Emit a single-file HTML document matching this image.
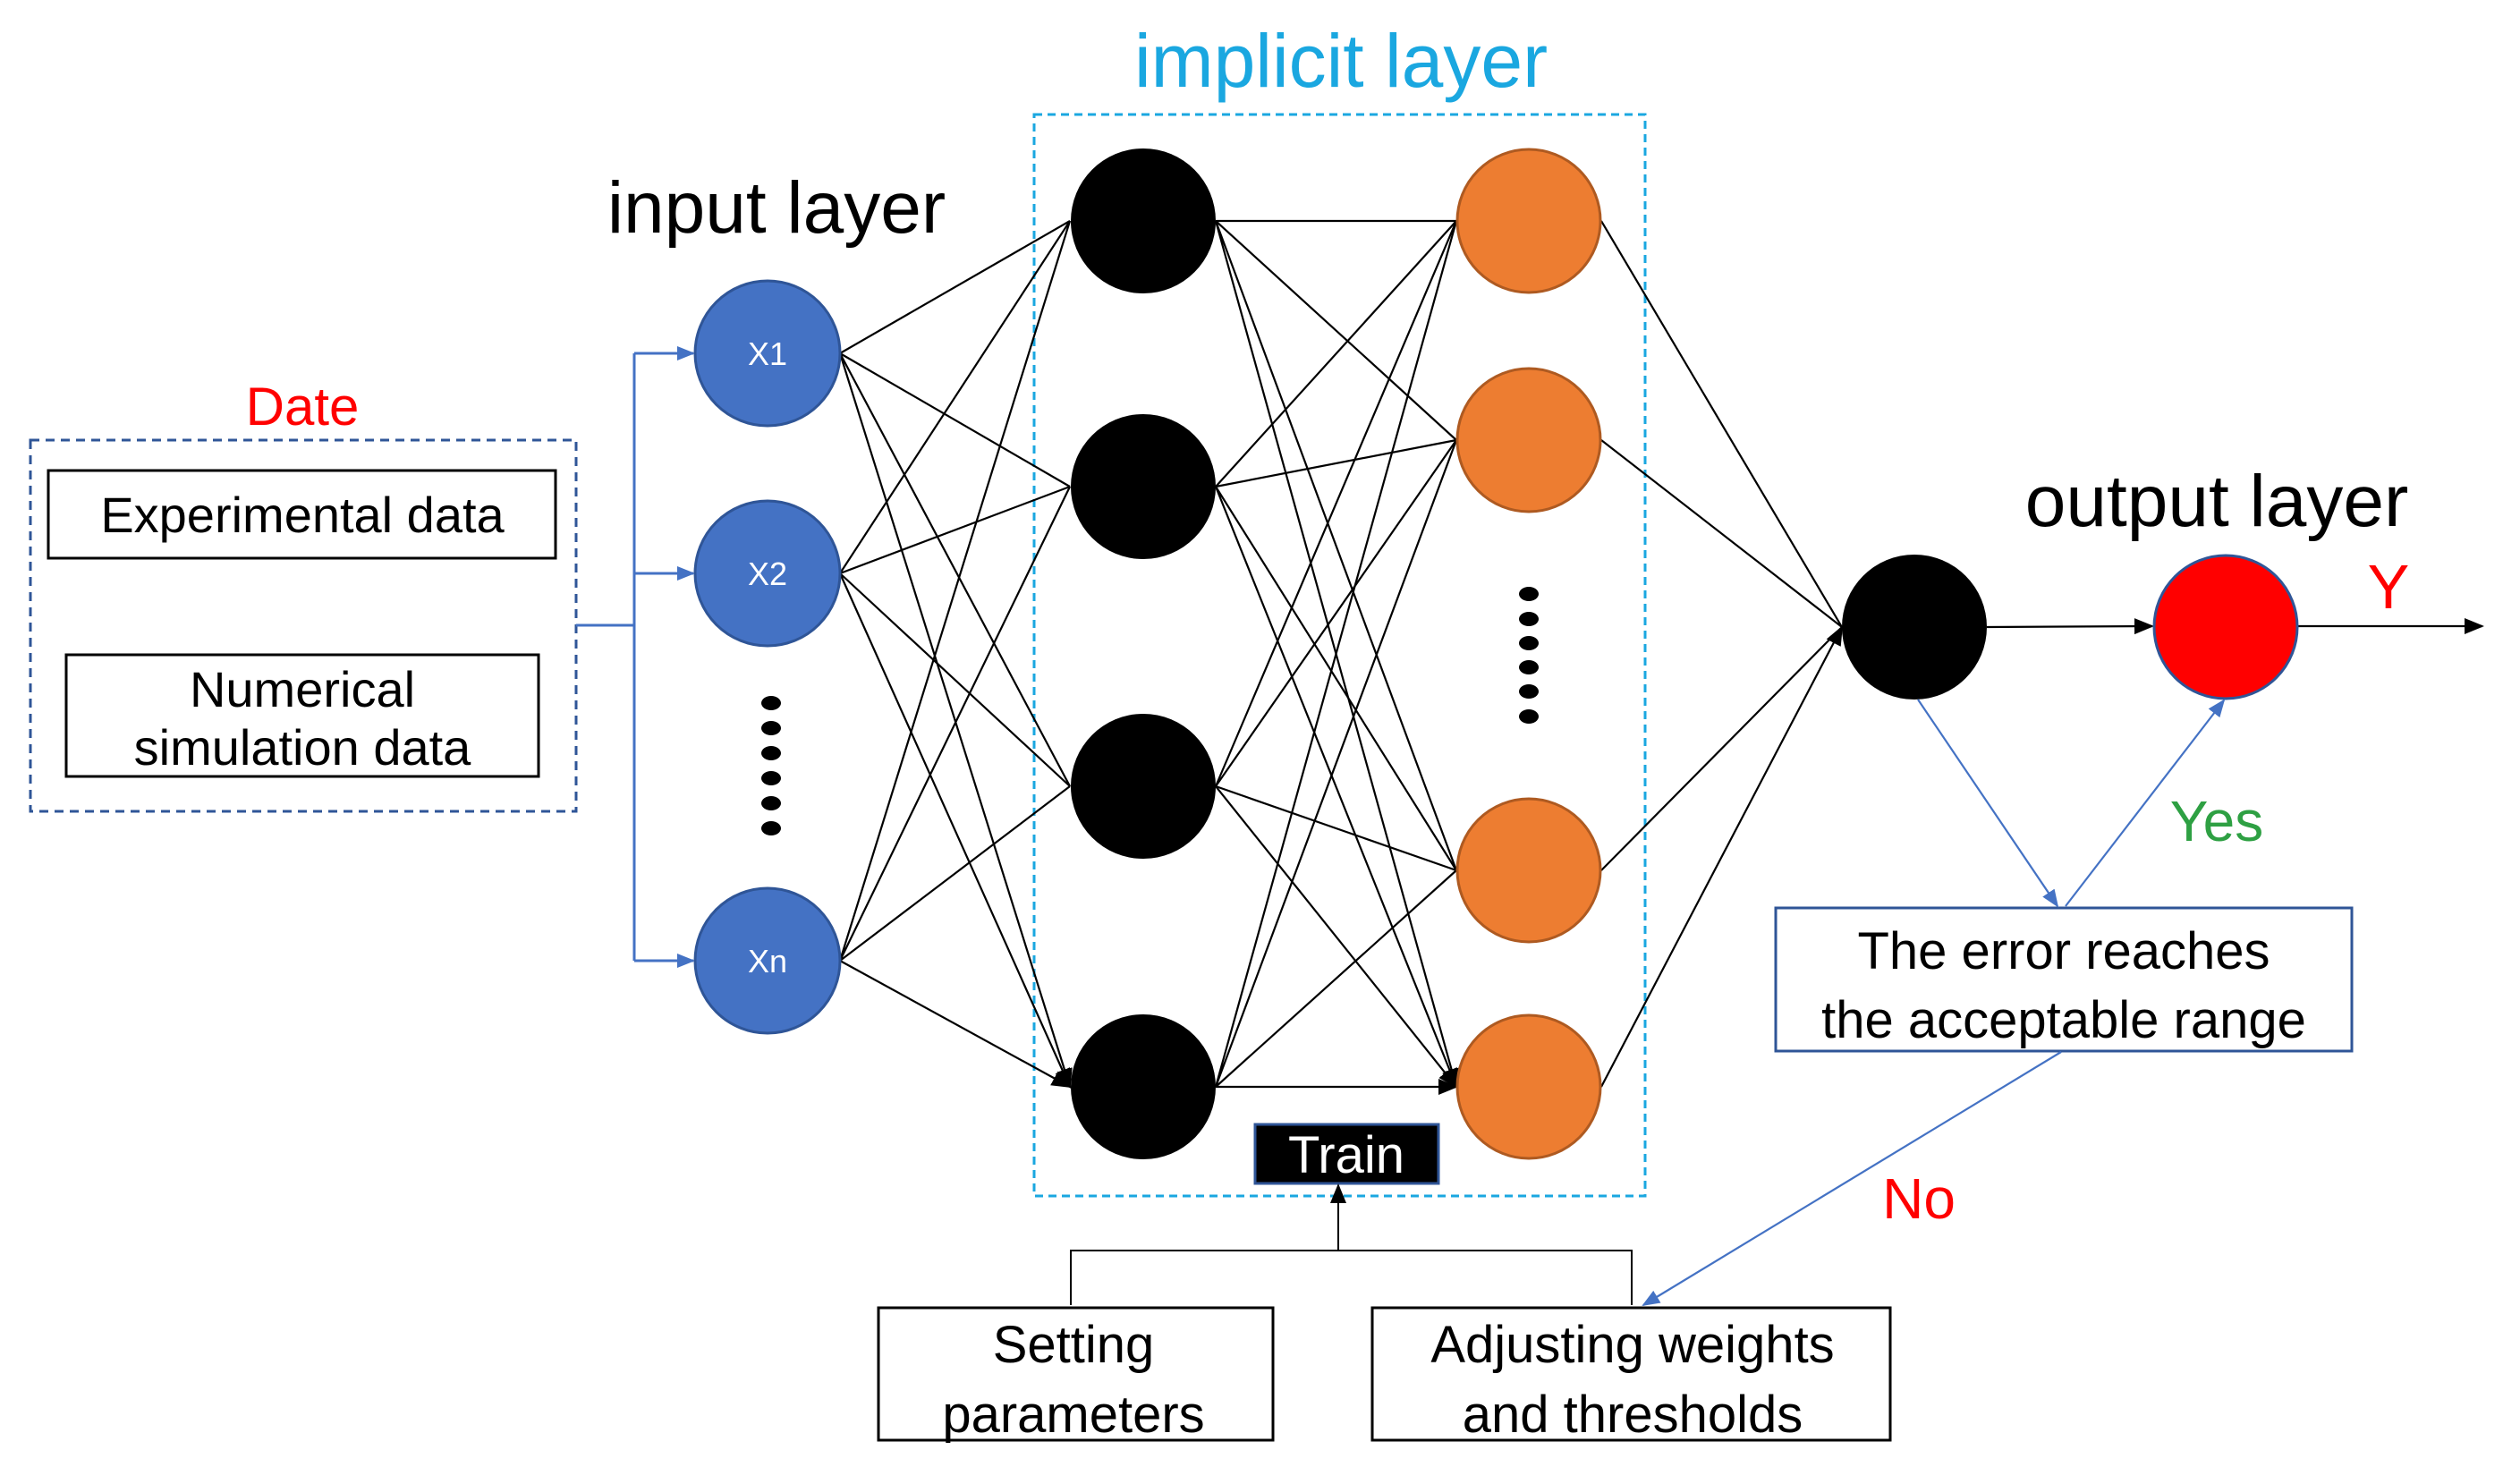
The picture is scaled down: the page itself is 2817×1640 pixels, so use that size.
<!DOCTYPE html>
<html><head><meta charset="utf-8"><style>
html,body{margin:0;padding:0;background:#fff}
svg{display:block}
text{font-family:"Liberation Sans","Noto Sans CJK SC",sans-serif}
</style></head><body>
<svg width="2817" height="1640" viewBox="0 0 2817 1640" xmlns="http://www.w3.org/2000/svg">
<defs>
<marker id="ak" markerWidth="10" markerHeight="10" refX="9" refY="5" orient="auto" markerUnits="userSpaceOnUse" viewBox="0 0 10 10"><path d="M0,0 L10,5 L0,10 z" fill="#000" transform="scale(1)"/></marker>
<marker id="akb" markerWidth="22" markerHeight="22" refX="20" refY="11" orient="auto" markerUnits="userSpaceOnUse"><path d="M0,2 L22,11 L0,20 z" fill="#000"/></marker>
<marker id="ab" markerWidth="20" markerHeight="18" refX="18" refY="9" orient="auto" markerUnits="userSpaceOnUse"><path d="M0,1 L20,9 L0,17 z" fill="#4472C4"/></marker>
</defs>

<!-- texts -->
<text x="1499" y="97" font-size="84" fill="#1AA7E0" text-anchor="middle">implicit layer</text>
<text x="868" y="260" font-size="82" fill="#000" text-anchor="middle">input layer</text>
<text x="2478" y="588" font-size="82" fill="#000" text-anchor="middle">output layer</text>
<text x="338" y="475" font-size="60" fill="#FF0000" text-anchor="middle">Date</text>
<text x="2670" y="680" font-size="70" fill="#FF0000" text-anchor="middle">Y</text>
<text x="2478" y="940" font-size="64" fill="#2EA043" text-anchor="middle">Yes</text>
<text x="2145" y="1362" font-size="64" fill="#FF0000" text-anchor="middle">No</text>

<!-- Date box -->
<rect x="34" y="492" width="610" height="415" fill="none" stroke="#2F5597" stroke-width="3" stroke-dasharray="10,7"/>
<rect x="54" y="526" width="567" height="98" fill="none" stroke="#000" stroke-width="3"/>
<text x="338" y="595" font-size="56" text-anchor="middle">Experimental  data</text>
<rect x="74" y="732" width="528" height="136" fill="none" stroke="#000" stroke-width="3"/>
<text x="338" y="790" font-size="56" text-anchor="middle">Numerical</text>
<text x="338" y="855" font-size="56" text-anchor="middle">simulation  data</text>

<!-- blue bracket -->
<g stroke="#4472C4" stroke-width="3" fill="none">
<path d="M644,699 H709"/>
<path d="M709,395 V1074"/>
<path d="M709,395 H775" marker-end="url(#ab)"/>
<path d="M709,641 H775" marker-end="url(#ab)"/>
<path d="M709,1074 H775" marker-end="url(#ab)"/>
</g>

<!-- implicit box -->
<rect x="1156" y="128" width="683" height="1209" fill="none" stroke="#1AA7E0" stroke-width="3" stroke-dasharray="9,6"/>

<!-- connections -->
<g stroke="#000" stroke-width="2.2" fill="none">
<path d="M939,395L1196,247M939,395L1196,544M939,395L1196,879M939,395L1196,1215" marker-end="url(#akb)"/>
<path d="M939,641L1196,247M939,641L1196,544M939,641L1196,879M939,641L1196,1215" marker-end="url(#akb)"/>
<path d="M939,1074L1196,247M939,1074L1196,544M939,1074L1196,879M939,1074L1196,1215" marker-end="url(#akb)"/>
<path d="M1359,247L1628,247M1359,247L1628,492M1359,247L1628,973M1359,247L1628,1215" marker-end="url(#akb)"/>
<path d="M1359,544L1628,247M1359,544L1628,492M1359,544L1628,973M1359,544L1628,1215" marker-end="url(#akb)"/>
<path d="M1359,879L1628,247M1359,879L1628,492M1359,879L1628,973M1359,879L1628,1215" marker-end="url(#akb)"/>
<path d="M1359,1215L1628,247M1359,1215L1628,492M1359,1215L1628,973M1359,1215L1628,1215" marker-end="url(#akb)"/>
<path d="M1790,247L2059,701M1790,492L2059,701M1790,973L2059,701M1790,1215L2059,701" marker-end="url(#akb)"/>
<path d="M2221,701L2406,700" marker-end="url(#akb)"/>
<path d="M2569,700L2775,700" marker-end="url(#akb)"/>
</g>

<!-- nodes -->
<g fill="#4472C4" stroke="#2F5597" stroke-width="3">
<circle cx="858" cy="395" r="81"/><circle cx="858" cy="641" r="81"/><circle cx="858" cy="1074" r="81"/>
</g>
<g fill="#fff" font-size="36" text-anchor="middle">
<text x="858" y="408">X1</text><text x="858" y="654">X2</text><text x="858" y="1087">Xn</text>
</g>
<g fill="#000">
<ellipse cx="862" cy="786" rx="11" ry="8"/><ellipse cx="862" cy="814" rx="11" ry="8"/><ellipse cx="862" cy="842" rx="11" ry="8"/><ellipse cx="862" cy="870" rx="11" ry="8"/><ellipse cx="862" cy="898" rx="11" ry="8"/><ellipse cx="862" cy="926" rx="11" ry="8"/>
<ellipse cx="1709" cy="664" rx="11" ry="8"/><ellipse cx="1709" cy="692" rx="11" ry="8"/><ellipse cx="1709" cy="719" rx="11" ry="8"/><ellipse cx="1709" cy="746" rx="11" ry="8"/><ellipse cx="1709" cy="773" rx="11" ry="8"/><ellipse cx="1709" cy="801" rx="11" ry="8"/>
<circle cx="1278" cy="247" r="81"/><circle cx="1278" cy="544" r="81"/><circle cx="1278" cy="879" r="81"/><circle cx="1278" cy="1215" r="81"/>
<circle cx="2140" cy="701" r="81"/>
</g>
<g fill="#ED7D31" stroke="#AE5A21" stroke-width="3">
<circle cx="1709" cy="247" r="80"/><circle cx="1709" cy="492" r="80"/><circle cx="1709" cy="973" r="80"/><circle cx="1709" cy="1215" r="80"/>
</g>
<circle cx="2488" cy="701" r="80" fill="#FF0000" stroke="#2F5597" stroke-width="3"/>

<!-- Train -->
<rect x="1403" y="1257" width="205" height="66" fill="#000" stroke="#2F5597" stroke-width="3"/>
<text x="1505" y="1311" font-size="58" fill="#fff" text-anchor="middle">Train</text>
<g stroke="#000" stroke-width="2" fill="none">
<path d="M1197,1459V1398H1824V1459"/>
<path d="M1496,1398V1325" marker-end="url(#akb)"/>
</g>

<!-- bottom boxes -->
<rect x="982" y="1462" width="441" height="148" fill="none" stroke="#000" stroke-width="3"/>
<text x="1200" y="1523" font-size="58" text-anchor="middle">Setting</text>
<text x="1200" y="1601" font-size="58" text-anchor="middle">parameters</text>
<rect x="1534" y="1462" width="579" height="148" fill="none" stroke="#000" stroke-width="3"/>
<text x="1825" y="1523" font-size="58" text-anchor="middle">Adjusting weights</text>
<text x="1825" y="1601" font-size="58" text-anchor="middle">and thresholds</text>

<!-- error box -->
<rect x="1985" y="1015" width="644" height="160" fill="none" stroke="#2F5597" stroke-width="3"/>
<text x="2307" y="1083" font-size="58" text-anchor="middle">The error reaches</text>
<text x="2307" y="1160" font-size="58" text-anchor="middle">the acceptable range</text>

<g stroke="#4472C4" stroke-width="2.2" fill="none">
<path d="M2144,782L2300,1013" marker-end="url(#ab)"/>
<path d="M2309,1013L2486,783" marker-end="url(#ab)"/>
<path d="M2304,1176L1837,1459" marker-end="url(#ab)"/>
</g>
</svg>
</body></html>
